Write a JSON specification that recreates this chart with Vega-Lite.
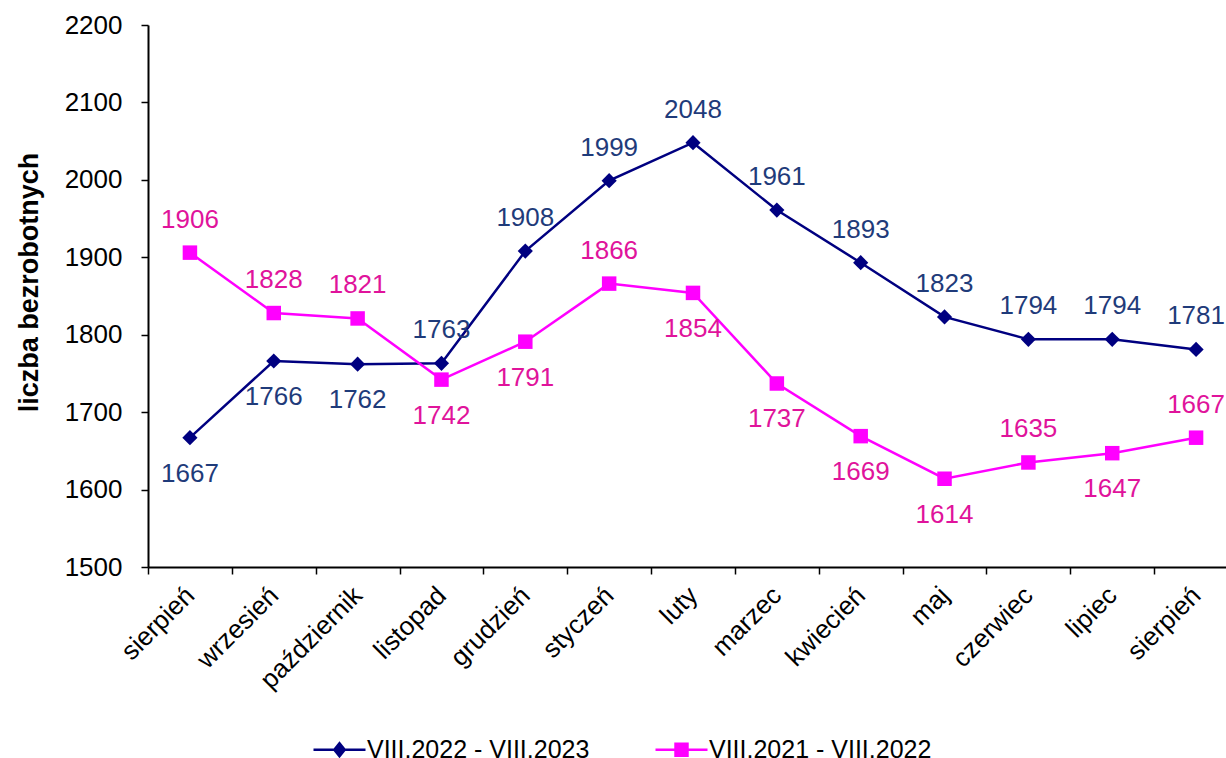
{
  "$schema": "https://vega.github.io/schema/vega-lite/v6.json",
  "width": 1090,
  "height": 542,
  "autosize": {"type": "none"},
  "padding": {"left": 148, "top": 25, "right": -12, "bottom": 191},
  "background": "white",
  "config": {
    "view": {"stroke": null},
    "font": "Liberation Sans",
    "axis": {"grid": false, "domainColor": "black", "domainWidth": 2, "tickColor": "black", "tickWidth": 1.5, "tickSize": 7, "labelColor": "black", "labelFont": "Liberation Sans", "labelFontSize": 26, "titleFont": "Liberation Sans"}
  },
  "data": {
    "values": [
      {"okres": "sierpień|1", "seria": "VIII.2022 - VIII.2023", "liczba": 1667},
      {"okres": "wrzesień", "seria": "VIII.2022 - VIII.2023", "liczba": 1766},
      {"okres": "październik", "seria": "VIII.2022 - VIII.2023", "liczba": 1762},
      {"okres": "listopad", "seria": "VIII.2022 - VIII.2023", "liczba": 1763},
      {"okres": "grudzień", "seria": "VIII.2022 - VIII.2023", "liczba": 1908},
      {"okres": "styczeń", "seria": "VIII.2022 - VIII.2023", "liczba": 1999},
      {"okres": "luty", "seria": "VIII.2022 - VIII.2023", "liczba": 2048},
      {"okres": "marzec", "seria": "VIII.2022 - VIII.2023", "liczba": 1961},
      {"okres": "kwiecień", "seria": "VIII.2022 - VIII.2023", "liczba": 1893},
      {"okres": "maj", "seria": "VIII.2022 - VIII.2023", "liczba": 1823},
      {"okres": "czerwiec", "seria": "VIII.2022 - VIII.2023", "liczba": 1794},
      {"okres": "lipiec", "seria": "VIII.2022 - VIII.2023", "liczba": 1794},
      {"okres": "sierpień|2", "seria": "VIII.2022 - VIII.2023", "liczba": 1781},
      {"okres": "sierpień|1", "seria": "VIII.2021 - VIII.2022", "liczba": 1906},
      {"okres": "wrzesień", "seria": "VIII.2021 - VIII.2022", "liczba": 1828},
      {"okres": "październik", "seria": "VIII.2021 - VIII.2022", "liczba": 1821},
      {"okres": "listopad", "seria": "VIII.2021 - VIII.2022", "liczba": 1742},
      {"okres": "grudzień", "seria": "VIII.2021 - VIII.2022", "liczba": 1791},
      {"okres": "styczeń", "seria": "VIII.2021 - VIII.2022", "liczba": 1866},
      {"okres": "luty", "seria": "VIII.2021 - VIII.2022", "liczba": 1854},
      {"okres": "marzec", "seria": "VIII.2021 - VIII.2022", "liczba": 1737},
      {"okres": "kwiecień", "seria": "VIII.2021 - VIII.2022", "liczba": 1669},
      {"okres": "maj", "seria": "VIII.2021 - VIII.2022", "liczba": 1614},
      {"okres": "czerwiec", "seria": "VIII.2021 - VIII.2022", "liczba": 1635},
      {"okres": "lipiec", "seria": "VIII.2021 - VIII.2022", "liczba": 1647},
      {"okres": "sierpień|2", "seria": "VIII.2021 - VIII.2022", "liczba": 1667}
    ]
  },
  "encoding": {
    "x": {
      "field": "okres", "type": "nominal", "sort": null,
      "scale": {"type": "band", "paddingInner": 0, "paddingOuter": 0},
      "axis": {"title": null, "labelAngle": -45, "labelAlign": "right", "labelBaseline": "middle", "labelPadding": 17, "tickBand": "extent", "labelExpr": "split(datum.label, '|')[0]"}
    },
    "y": {
      "field": "liczba", "type": "quantitative",
      "scale": {"domain": [1500, 2200], "nice": false, "zero": false},
      "axis": {"values": [1500, 1600, 1700, 1800, 1900, 2000, 2100, 2200], "format": "d", "title": "liczba bezrobotnych", "titleFontSize": 27, "titleFontWeight": "bold", "titleColor": "black", "titlePadding": 21, "titleY": 257, "labelPadding": 19}
    }
  },
  "layer": [
    {
      "mark": {"type": "point", "filled": true, "opacity": 0},
      "encoding": {
        "fill": {
          "field": "seria", "type": "nominal",
          "scale": {"domain": ["VIII.2022 - VIII.2023", "VIII.2021 - VIII.2022"], "range": ["#000080", "#FF00FF"]},
          "legend": {
            "orient": "none", "legendX": 164, "legendY": 697, "direction": "horizontal", "title": null,
            "padding": 0, "symbolSize": 2704, "symbolStrokeWidth": 2.5, "symbolOpacity": 1,
            "labelFontSize": 25, "labelColor": "black", "labelFont": "Liberation Sans", "labelOffset": 0, "labelLimit": 500, "columnPadding": 60
          }
        },
        "stroke": {"field": "seria", "type": "nominal"},
        "shape": {
          "field": "seria", "type": "nominal",
          "scale": {"domain": ["VIII.2022 - VIII.2023", "VIII.2021 - VIII.2022"], "range": ["M-1,0H1M0,-0.25L0.2,0L0,0.25L-0.2,0Z", "M-1,0H1M-0.23,-0.23H0.23V0.23H-0.23Z"]},
          "legend": {
            "orient": "none", "legendX": 164, "legendY": 697, "direction": "horizontal", "title": null,
            "padding": 0, "symbolSize": 2704, "symbolStrokeWidth": 2.5, "symbolOpacity": 1,
            "labelFontSize": 25, "labelColor": "black", "labelFont": "Liberation Sans", "labelOffset": 0, "labelLimit": 500, "columnPadding": 60
          }
        }
      }
    },
    {
      "mark": {"type": "line", "strokeWidth": 2.5},
      "encoding": {
        "stroke": {
          "field": "seria", "type": "nominal",
          "scale": {"domain": ["VIII.2022 - VIII.2023", "VIII.2021 - VIII.2022"], "range": ["#000080", "#FF00FF"]},
          "legend": {
            "orient": "none", "legendX": 164, "legendY": 697, "direction": "horizontal", "title": null,
            "padding": 0, "symbolSize": 2704, "symbolStrokeWidth": 2.5, "symbolOpacity": 1,
            "labelFontSize": 25, "labelColor": "black", "labelFont": "Liberation Sans", "labelOffset": 0, "labelLimit": 500, "columnPadding": 60
          }
        }
      }
    },
    {
      "mark": {"type": "point", "filled": true, "opacity": 1},
      "encoding": {
        "fill": {"field": "seria", "type": "nominal"},
        "shape": {"condition": {"test": "datum.seria == 'VIII.2022 - VIII.2023'", "value": "diamond"}, "value": "square"},
        "size": {"condition": {"test": "datum.seria == 'VIII.2022 - VIII.2023'", "value": 230}, "value": 210}
      }
    },
    {
      "transform": [{"filter": "!((datum.seria == 'VIII.2022 - VIII.2023' && indexof(['sierpień|1','wrzesień','październik'], datum.okres) >= 0) || (datum.seria == 'VIII.2021 - VIII.2022' && indexof(['listopad','grudzień','luty','marzec','kwiecień','maj','lipiec'], datum.okres) >= 0))"}],
      "mark": {"type": "text", "font": "Liberation Sans", "fontSize": 26, "baseline": "alphabetic", "dy": -25},
      "encoding": {
        "text": {"field": "liczba", "type": "quantitative"},
        "color": {"condition": {"test": "datum.seria == 'VIII.2022 - VIII.2023'", "value": "#1F3B7A"}, "value": "#E0139B"}
      }
    },
    {
      "transform": [{"filter": "(datum.seria == 'VIII.2022 - VIII.2023' && indexof(['sierpień|1','wrzesień','październik'], datum.okres) >= 0) || (datum.seria == 'VIII.2021 - VIII.2022' && indexof(['listopad','grudzień','luty','marzec','kwiecień','maj','lipiec'], datum.okres) >= 0)"}],
      "mark": {"type": "text", "font": "Liberation Sans", "fontSize": 26, "baseline": "alphabetic", "dy": 44},
      "encoding": {
        "text": {"field": "liczba", "type": "quantitative"},
        "color": {"condition": {"test": "datum.seria == 'VIII.2022 - VIII.2023'", "value": "#1F3B7A"}, "value": "#E0139B"}
      }
    }
  ]
}
